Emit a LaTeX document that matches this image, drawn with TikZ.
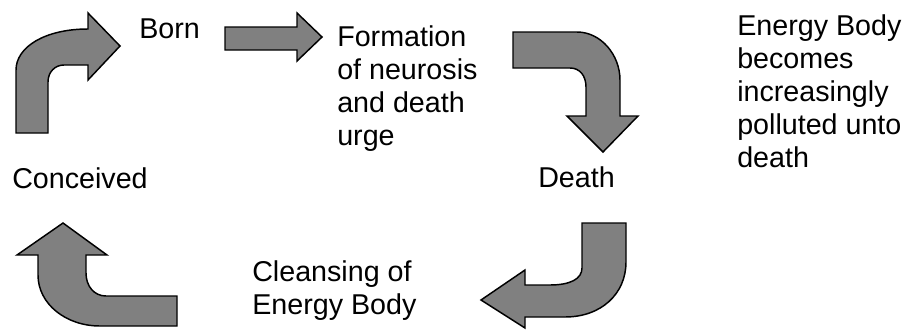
\documentclass[tikz,border=0pt]{standalone}
\usepackage{fontspec}
\setmainfont{Liberation Sans}
\usetikzlibrary{positioning}

\begin{document}
\begin{tikzpicture}[x=0.75pt, y=-0.75pt,
  bentarrow/.style={fill=gray, draw=black, line width=1.1pt, line join=miter},
  steplabel/.style={font=\fontsize{21.5}{24.75}\selectfont, anchor=base west, align=left, inner sep=0pt}]

\useasboundingbox (0,0) rectangle (908,329);

% Conceived -> Born (bent up and to the right)
\filldraw[bentarrow] (16,133) -- (16,70) .. controls (16,47) and (45,29) .. (88,29)
  -- (88,13) -- (120,46) -- (88,80) -- (88,65) -- (64,65)
  .. controls (55,65) and (48,72) .. (48,82) -- (48,133) -- cycle;

% Born -> Formation (straight block arrow)
\filldraw[bentarrow] (225,27) -- (297,27) -- (297,13) -- (322,37) -- (297,61)
  -- (297,50) -- (225,50) -- cycle;

% Formation -> Death (bent right and down)
\filldraw[bentarrow] (513,32) -- (577,32) .. controls (601,32) and (620,55) .. (620,80)
  -- (620,116) -- (638,116) -- (603,152) -- (567,116) -- (586,116) -- (586,87)
  .. controls (586,76) and (580,68) .. (570,68) -- (513,68) -- cycle;

% Death -> Cleansing (bent down and to the left)
\filldraw[bentarrow] (582,223) -- (626,223) -- (626,262)
  .. controls (626,294) and (601,317) .. (565,317) -- (525,317) -- (525,328)
  -- (481,300) -- (525,270) -- (525,285) -- (550,285)
  .. controls (570,285) and (582,279) .. (582,268) -- cycle;

% Cleansing -> Conceived (bent left and up)
\filldraw[bentarrow] (177,296) -- (177,326) -- (100,326)
  .. controls (66,326) and (38,304) .. (38,275) -- (38,255) -- (17,255)
  -- (63,223) -- (107,255) -- (86,255) -- (86,273)
  .. controls (86,286) and (94,296) .. (106,296) -- cycle;

% Stages of the cycle (multi-line nodes sit on their last baseline)
\node[steplabel] (born) at (139,38) {Born};
\node[steplabel] (formation) at (337,145) {Formation\\of neurosis\\and death\\urge};
\node[steplabel] (conceived) at (12,188) {Conceived};
\node[steplabel] (death) at (538,187) {Death};
\node[steplabel] (cleansing) at (252,314) {Cleansing of\\Energy Body};

% Side note
\node[steplabel] (pollution) at (737,167) {Energy Body\\becomes\\increasingly\\polluted unto\\death};

\end{tikzpicture}
\end{document}
